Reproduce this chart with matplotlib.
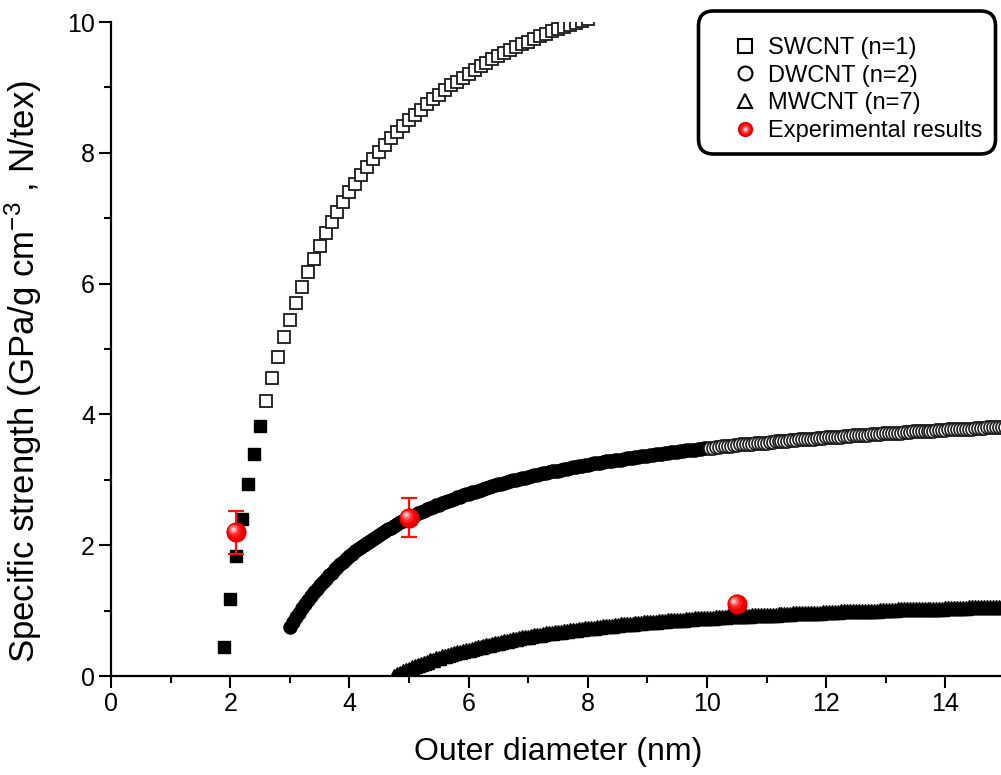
import numpy as np
import matplotlib
matplotlib.use("Agg")
import matplotlib.pyplot as plt
from matplotlib.lines import Line2D
from matplotlib.legend_handler import HandlerTuple
from matplotlib.ticker import MultipleLocator
from matplotlib.transforms import offset_copy
from matplotlib.patches import FancyBboxPatch

plt.rcParams['font.family'] = ['Liberation Sans', 'DejaVu Sans']
plt.rcParams['mathtext.fontset'] = 'custom'
plt.rcParams['mathtext.rm'] = 'Liberation Sans'
plt.rcParams['mathtext.it'] = 'Liberation Sans:italic'

# ---------------- data ----------------
# SWCNT (n=1): diameters 1.9 .. 8.0 nm, step 0.1
sw_x0, sw_step = 1.9, 0.1
sw_filled = [0.45, 1.18, 1.83, 2.40, 2.93, 3.39, 3.82]            # 1.9 .. 2.5
sw_open = [4.21, 4.55, 4.88, 5.18, 5.45, 5.71, 5.95, 6.17, 6.38, 6.58,
           6.77, 6.94, 7.10, 7.25, 7.40, 7.53, 7.66, 7.78, 7.90, 8.01,
           8.12, 8.22, 8.32, 8.41, 8.50, 8.58, 8.66, 8.74, 8.82, 8.89,
           8.96, 9.03, 9.09, 9.15, 9.21, 9.27, 9.32, 9.38, 9.43, 9.48,
           9.53, 9.57, 9.62, 9.66, 9.70, 9.74, 9.78, 9.82, 9.86, 9.89,
           9.93, 9.96, 9.99, 10.02, 10.05]                            # 2.6 .. 8.0

# DWCNT (n=2): diameters 3.00 .. 15.00 nm, step 0.05
dw_x0, dw_step = 3.0, 0.05
dw_filled = [0.75, 0.83, 0.90, 0.97, 1.04, 1.10, 1.16, 1.22, 1.28, 1.33,
             1.39, 1.44, 1.49, 1.54, 1.58, 1.63, 1.67, 1.71, 1.75, 1.79,
             1.83, 1.87, 1.91, 1.94, 1.98, 2.01, 2.04, 2.07, 2.10, 2.13,
             2.16, 2.19, 2.22, 2.25, 2.27, 2.30, 2.32, 2.35, 2.37, 2.40,
             2.42, 2.44, 2.46, 2.49, 2.51, 2.53, 2.55, 2.57, 2.59, 2.61,
             2.62, 2.64, 2.66, 2.68, 2.69, 2.71, 2.73, 2.74, 2.76, 2.78,
             2.79, 2.81, 2.82, 2.83, 2.85, 2.86, 2.88, 2.89, 2.90, 2.92,
             2.93, 2.94, 2.95, 2.97, 2.98, 2.99, 3.00, 3.01, 3.02, 3.03,
             3.05, 3.06, 3.07, 3.08, 3.09, 3.10, 3.11, 3.12, 3.13, 3.14,
             3.14, 3.15, 3.16, 3.17, 3.18, 3.19, 3.20, 3.21, 3.21, 3.22,
             3.23, 3.24, 3.25, 3.25, 3.26, 3.27, 3.28, 3.28, 3.29, 3.30,
             3.31, 3.31, 3.32, 3.33, 3.33, 3.34, 3.35, 3.35, 3.36, 3.37,
             3.37, 3.38, 3.38, 3.39, 3.40, 3.40, 3.41, 3.41, 3.42, 3.43,
             3.43, 3.44, 3.44, 3.45, 3.45, 3.46, 3.46, 3.47, 3.47, 3.48,
             3.48]                                                      # 3.00 .. 10.00
dw_open = [3.49, 3.49, 3.50, 3.50, 3.51, 3.51, 3.52, 3.52, 3.53, 3.53,
           3.54, 3.54, 3.54, 3.55, 3.55, 3.56, 3.56, 3.57, 3.57, 3.57,
           3.58, 3.58, 3.59, 3.59, 3.59, 3.60, 3.60, 3.61, 3.61, 3.61,
           3.62, 3.62, 3.62, 3.63, 3.63, 3.63, 3.64, 3.64, 3.64, 3.65,
           3.65, 3.65, 3.66, 3.66, 3.66, 3.67, 3.67, 3.67, 3.68, 3.68,
           3.68, 3.69, 3.69, 3.69, 3.70, 3.70, 3.70, 3.70, 3.71, 3.71,
           3.71, 3.72, 3.72, 3.72, 3.72, 3.73, 3.73, 3.73, 3.74, 3.74,
           3.74, 3.74, 3.75, 3.75, 3.75, 3.75, 3.76, 3.76, 3.76, 3.76,
           3.77, 3.77, 3.77, 3.77, 3.78, 3.78, 3.78, 3.78, 3.78, 3.79,
           3.79, 3.79, 3.79, 3.80, 3.80, 3.80, 3.80, 3.80, 3.81, 3.81]  # 10.05 .. 15.00

# MWCNT (n=7): diameters 4.75 .. 15.00 nm, step 0.05
mw_x0, mw_step = 4.75, 0.05
mw_vals = [0.00, 0.03, 0.05, 0.07, 0.09,
           0.11, 0.13, 0.15, 0.17, 0.19, 0.20, 0.22, 0.24, 0.25, 0.27,
           0.28, 0.30, 0.31, 0.32, 0.34, 0.35, 0.36, 0.37, 0.38, 0.39,
           0.40, 0.41, 0.43, 0.44, 0.45, 0.46, 0.47, 0.48, 0.49, 0.50,
           0.51, 0.52, 0.53, 0.54, 0.55, 0.56, 0.57, 0.58, 0.59, 0.59,
           0.60, 0.61, 0.62, 0.63, 0.63, 0.64, 0.65, 0.65, 0.66, 0.67,
           0.67, 0.68, 0.69, 0.69, 0.70, 0.70, 0.71, 0.72, 0.72, 0.73,
           0.73, 0.74, 0.74, 0.75, 0.75, 0.76, 0.76, 0.77, 0.77, 0.78,
           0.78, 0.79, 0.79, 0.79, 0.80, 0.80, 0.81, 0.81, 0.81, 0.82,
           0.82, 0.83, 0.83, 0.83, 0.84, 0.84, 0.84, 0.85, 0.85, 0.85,
           0.86, 0.86, 0.86, 0.87, 0.87, 0.87, 0.88, 0.88, 0.88, 0.88,
           0.89, 0.89, 0.89, 0.90, 0.90, 0.90, 0.90, 0.91, 0.91, 0.91,
           0.91, 0.92, 0.92, 0.92, 0.92, 0.93, 0.93, 0.93, 0.93, 0.94,
           0.94, 0.94, 0.94, 0.94, 0.95, 0.95, 0.95, 0.95, 0.95, 0.96,
           0.96, 0.96, 0.96, 0.96, 0.97, 0.97, 0.97, 0.97, 0.97, 0.98,
           0.98, 0.98, 0.98, 0.98, 0.98, 0.99, 0.99, 0.99, 0.99, 0.99,
           0.99, 1.00, 1.00, 1.00, 1.00, 1.00, 1.00, 1.00, 1.01, 1.01,
           1.01, 1.01, 1.01, 1.01, 1.02, 1.02, 1.02, 1.02, 1.02, 1.02,
           1.02, 1.02, 1.03, 1.03, 1.03, 1.03, 1.03, 1.03, 1.03, 1.03,
           1.04, 1.04, 1.04, 1.04, 1.04, 1.04, 1.04, 1.04, 1.05, 1.05,
           1.05, 1.05, 1.05, 1.05, 1.05, 1.05, 1.05, 1.05, 1.06, 1.06,
           1.06]

# Experimental results
exp_x = [2.1, 5.0, 10.5]
exp_y = [2.20, 2.42, 1.10]
exp_err = [0.33, 0.30, 0.05]

labels = ['SWCNT (n=1)', 'DWCNT (n=2)', 'MWCNT (n=7)', 'Experimental results']
x_label = 'Outer diameter (nm)'
y_label = r'Specific strength (GPa/g cm$^{-3}$ , N/tex)'
xticks = [0, 2, 4, 6, 8, 10, 12, 14]
yticks = [0, 2, 4, 6, 8, 10]

# ---------------- figure ----------------
W, H = 1001, 775
fig = plt.figure(figsize=(W / 100, H / 100), dpi=100)
ax = fig.add_axes([111 / W, 99 / H, 894 / W, 654 / H])

def grid(x0, step, n, offset=0):
    return x0 + step * (np.arange(n) + offset)

sw_xf = grid(sw_x0, sw_step, len(sw_filled))
sw_xo = grid(sw_x0, sw_step, len(sw_open), offset=len(sw_filled))
dw_xf = grid(dw_x0, dw_step, len(dw_filled))
dw_xo = grid(dw_x0, dw_step, len(dw_open), offset=len(dw_filled))
mw_x = grid(mw_x0, mw_step, len(mw_vals))

ms_sq, ms_ci, ms_tr = 8.8, 9.4, 10.0
ax.plot(sw_xf, sw_filled, ls='none', marker='s', ms=ms_sq, mfc='black',
        mec='black', mew=1.0, zorder=3)
ax.plot(sw_xo, sw_open, ls='none', marker='s', ms=ms_sq, mfc='white',
        mec='#1a1a1a', mew=1.3, zorder=3)
ax.plot(dw_xf, dw_filled, ls='none', marker='o', ms=ms_ci, mfc='black',
        mec='black', mew=1.0, zorder=3)
ax.plot(dw_xo, dw_open, ls='none', marker='o', ms=ms_ci, mfc='white',
        mec='#1a1a1a', mew=1.2, zorder=3)
ax.plot(mw_x, mw_vals, ls='none', marker='^', ms=ms_tr, mfc='black',
        mec='black', mew=1.0, zorder=3)

# experimental points: error bars + shaded red spheres
ax.errorbar(exp_x, exp_y, yerr=exp_err, fmt='none', ecolor='#ff1010',
            elinewidth=1.6, capsize=5.5, capthick=1.6, zorder=5)

sphere_layers = [(1.00, '#d80000', 0.00, 0.00),
                 (0.86, '#f20000', -0.05, 0.05),
                 (0.64, '#ff2424', -0.10, 0.10),
                 (0.42, '#ff6a6a', -0.14, 0.14),
                 (0.22, '#ffc4c4', -0.17, 0.17)]

def draw_sphere(xs, ys, size):
    for k, (frac, col, dx, dy) in enumerate(sphere_layers):
        tr = offset_copy(ax.transData, fig=fig, x=dx * size, y=dy * size,
                         units='points')
        ax.plot(xs, ys, ls='none', marker='o', ms=size * frac, mfc=col,
                mec='none', transform=tr, zorder=6 + k * 0.1, clip_on=False)

draw_sphere(exp_x, exp_y, 14.5)

# axes styling
ax.set_xlim(0, 15)
ax.set_ylim(0, 10)
ax.set_xticks(xticks)
ax.set_yticks(yticks)
ax.xaxis.set_minor_locator(MultipleLocator(1))
ax.yaxis.set_minor_locator(MultipleLocator(1))
for s in ('top', 'right'):
    ax.spines[s].set_visible(False)
for s in ('left', 'bottom'):
    ax.spines[s].set_linewidth(1.6)
ax.tick_params(which='major', direction='out', length=8.5, width=1.5,
               labelsize=18, pad=3)
ax.tick_params(which='minor', direction='out', length=5, width=1.5)
ax.set_xlabel(x_label, fontsize=23, labelpad=15)
ax.set_ylabel(y_label, fontsize=25)
ax.yaxis.set_label_coords(-0.0745, 0.466)

# legend (frame drawn separately as a rounded box)
box = FancyBboxPatch((6.985, 6.21), 2.97, 1.43,
                     boxstyle='round,pad=0,rounding_size=0.15',
                     transform=fig.dpi_scale_trans, facecolor='white',
                     edgecolor='black', linewidth=2.6, zorder=9)
fig.patches.append(box)

h_sq = Line2D([], [], ls='none', marker='s', ms=10, mfc='white', mec='black', mew=1.5)
h_ci = Line2D([], [], ls='none', marker='o', ms=10, mfc='white', mec='black', mew=1.5)
h_tr = Line2D([], [], ls='none', marker='^', ms=10, mfc='white', mec='black', mew=1.5)
h_sp = tuple(Line2D([], [], ls='none', marker='o', ms=11 * f, mfc=c, mec='none')
             for f, c, _, _ in sphere_layers)
fs_leg = 17
leg = fig.legend([h_sq, h_ci, h_tr, h_sp], labels, loc='upper left',
                 bbox_to_anchor=(733 / W, 1 - 37 / H), bbox_transform=fig.transFigure,
                 borderaxespad=0, borderpad=0, frameon=False, fontsize=fs_leg,
                 labelspacing=0.24, handlelength=1.0, handletextpad=0.48,
                 handler_map={tuple: HandlerTuple(ndivide=1)})
leg.set_zorder(10)

fig.savefig('out.png', dpi=100)
